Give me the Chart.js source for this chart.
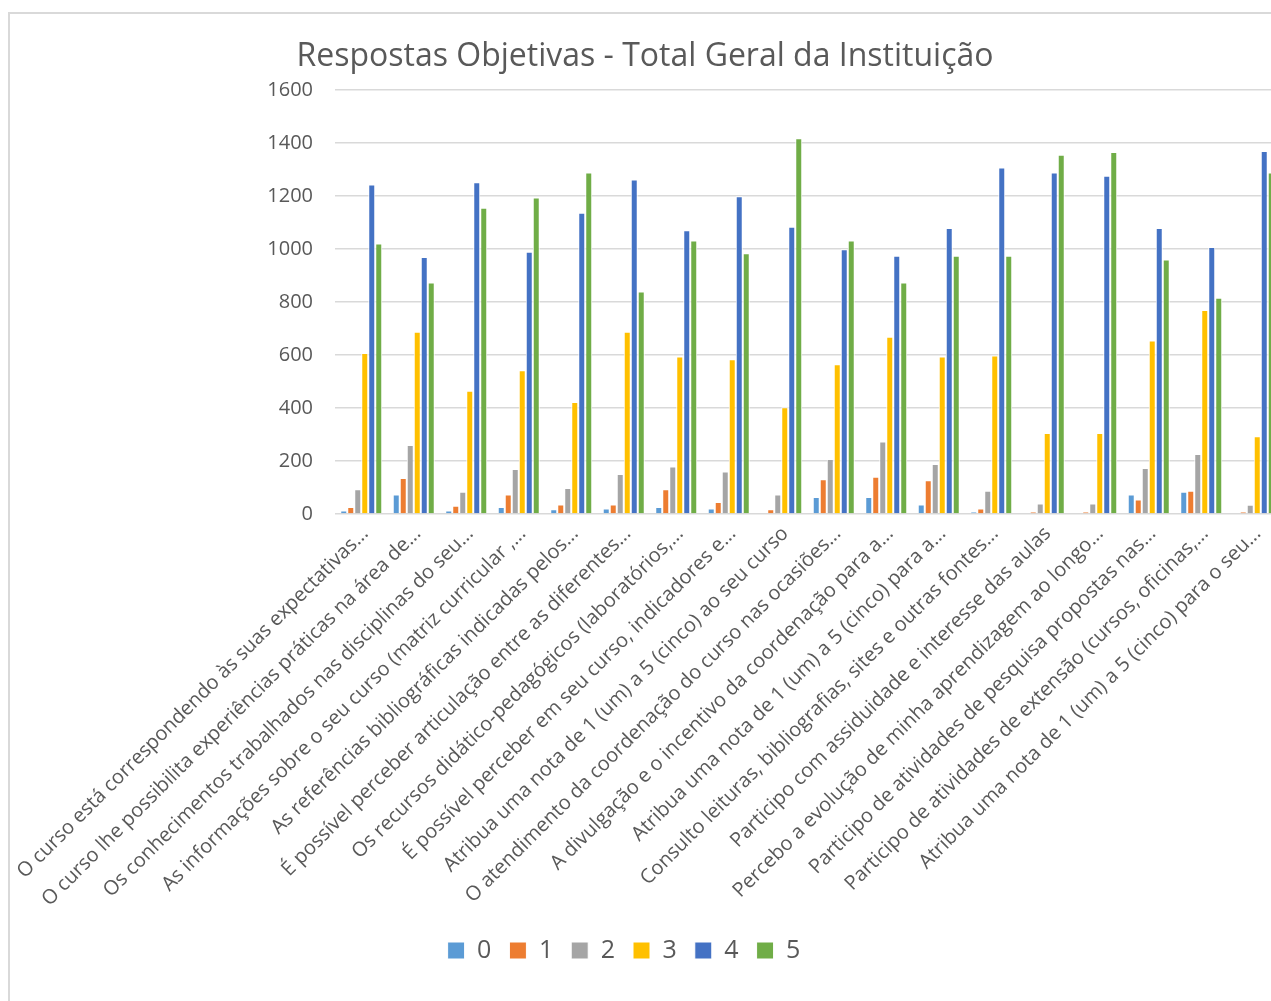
<!DOCTYPE html>
<html>
<head>
<meta charset="utf-8">
<script src="https://cdn.jsdelivr.net/npm/chart.js@4.4.1/dist/chart.umd.min.js"></script>
<style>
  html, body { margin: 0; padding: 0; width: 1271px; height: 1001px; overflow: hidden; background: #fff; }
  #frame { position: absolute; left: 8px; top: 12px; width: 1300px; height: 1000px;
           border-left: 2px solid #d9d9d9; border-top: 2px solid #d9d9d9; box-sizing: border-box; }
  #wrap { position: absolute; left: -32px; top: 0; width: 1312px; height: 1001px; }
</style>
</head>
<body>
<div id="frame"></div>
<div id="wrap"><canvas id="c" width="1312" height="1001"></canvas></div>
<script>
const title = "Respostas Objetivas - Total Geral da Instituição";
const categories = [
  "O curso está correspondendo às suas expectativas...",
  "O curso lhe possibilita experiências práticas na área de...",
  "Os conhecimentos trabalhados nas disciplinas do seu...",
  "As informações sobre o seu curso (matriz curricular ,...",
  "As referências bibliográficas indicadas pelos...",
  "É possível perceber articulação entre as diferentes...",
  "Os recursos didático-pedagógicos (laboratórios,...",
  "É possível perceber em seu curso, indicadores e...",
  "Atribua uma nota de 1 (um) a 5 (cinco) ao seu curso",
  "O atendimento da coordenação do curso nas ocasiões...",
  "A divulgação e o incentivo da coordenação para a...",
  "Atribua uma nota de 1 (um) a 5 (cinco) para a...",
  "Consulto leituras, bibliografias, sites e outras fontes...",
  "Participo com assiduidade e interesse das aulas",
  "Percebo a evolução de minha aprendizagem ao longo...",
  "Participo de atividades de pesquisa propostas nas...",
  "Participo de atividades de extensão (cursos, oficinas,...",
  "Atribua uma nota de 1 (um) a 5 (cinco) para o seu..."
];
const seriesNames = ["0", "1", "2", "3", "4", "5"];
const s0 = [13, 74, 13, 26, 18, 21, 26, 21, 0, 64, 64, 36, 8, 0, 0, 74, 84, 0];
const s1 = [26, 136, 31, 74, 36, 36, 93, 45, 18, 131, 141, 127, 21, 8, 8, 55, 88, 8];
const s2 = [93, 260, 84, 170, 98, 151, 179, 160, 74, 208, 274, 189, 88, 40, 40, 174, 226, 35];
const s3 = [608, 688, 465, 542, 423, 688, 594, 584, 403, 565, 669, 594, 598, 306, 306, 655, 770, 293];
const s4 = [1243, 970, 1252, 990, 1137, 1262, 1071, 1199, 1084, 999, 975, 1079, 1308, 1289, 1276, 1079, 1008, 1370];
const s5 = [1021, 874, 1156, 1194, 1289, 840, 1032, 984, 1418, 1032, 874, 975, 975, 1356, 1366, 960, 816, 1289];
const yTicks = [0, 200, 400, 600, 800, 1000, 1200, 1400, 1600];

const colors = ["#5B9BD5", "#ED7D31", "#A5A5A5", "#FFC000", "#4472C4", "#70AD47"];
const allSeries = [s0, s1, s2, s3, s4, s5];
const textColor = "#595959";

Chart.defaults.font.family = "'Open Sans', sans-serif";
Chart.defaults.color = textColor;

const titlePlugin = {
  id: 'customTitle',
  afterDraw(chart) {
    const ctx = chart.ctx;
    ctx.save();
    ctx.font = "32px 'Open Sans', sans-serif";
    ctx.fillStyle = textColor;
    ctx.textAlign = 'center';
    ctx.textBaseline = 'middle';
    ctx.fillText(title, 677, 57);
    ctx.restore();
  }
};

new Chart(document.getElementById('c'), {
  type: 'bar',
  data: {
    labels: categories,
    datasets: seriesNames.map((n, i) => ({
      label: n,
      data: allSeries[i],
      backgroundColor: colors[i],
      borderColor: '#ffffff',
      borderWidth: 1,
      borderSkipped: 'start',
      categoryPercentage: 0.8,
      barPercentage: 1.0
    }))
  },
  options: {
    responsive: false,
    animation: false,
    layout: { padding: { top: 90, bottom: 28, left: 0, right: 0 } },
    plugins: {
      title: { display: false },
      tooltip: { enabled: false },
      legend: {
        position: 'bottom',
        labels: {
          boxWidth: 17,
          boxHeight: 17,
          padding: 18,
          color: textColor,
          font: { size: 25 }
        }
      }
    },
    scales: {
      x: {
        grid: { display: false, drawTicks: false },
        border: { display: false },
        afterFit(scale) { scale.height = 406; },
        ticks: {
          autoSkip: false,
          minRotation: 45,
          maxRotation: 45,
          padding: 8,
          labelOffset: 4,
          color: textColor,
          font: { size: 20 }
        }
      },
      y: {
        min: 0,
        max: 1600,
        afterFit(scale) { scale.width = 367; },
        afterBuildTicks(scale) { scale.ticks = yTicks.map(v => ({ value: v })); },
        grid: { color: '#d9d9d9', lineWidth: 1.5, drawTicks: false },
        border: { display: false },
        ticks: {
          padding: 22,
          color: textColor,
          font: { size: 20 },
          callback: (v) => String(v)
        }
      }
    }
  },
  plugins: [titlePlugin]
});
</script>
</body>
</html>
